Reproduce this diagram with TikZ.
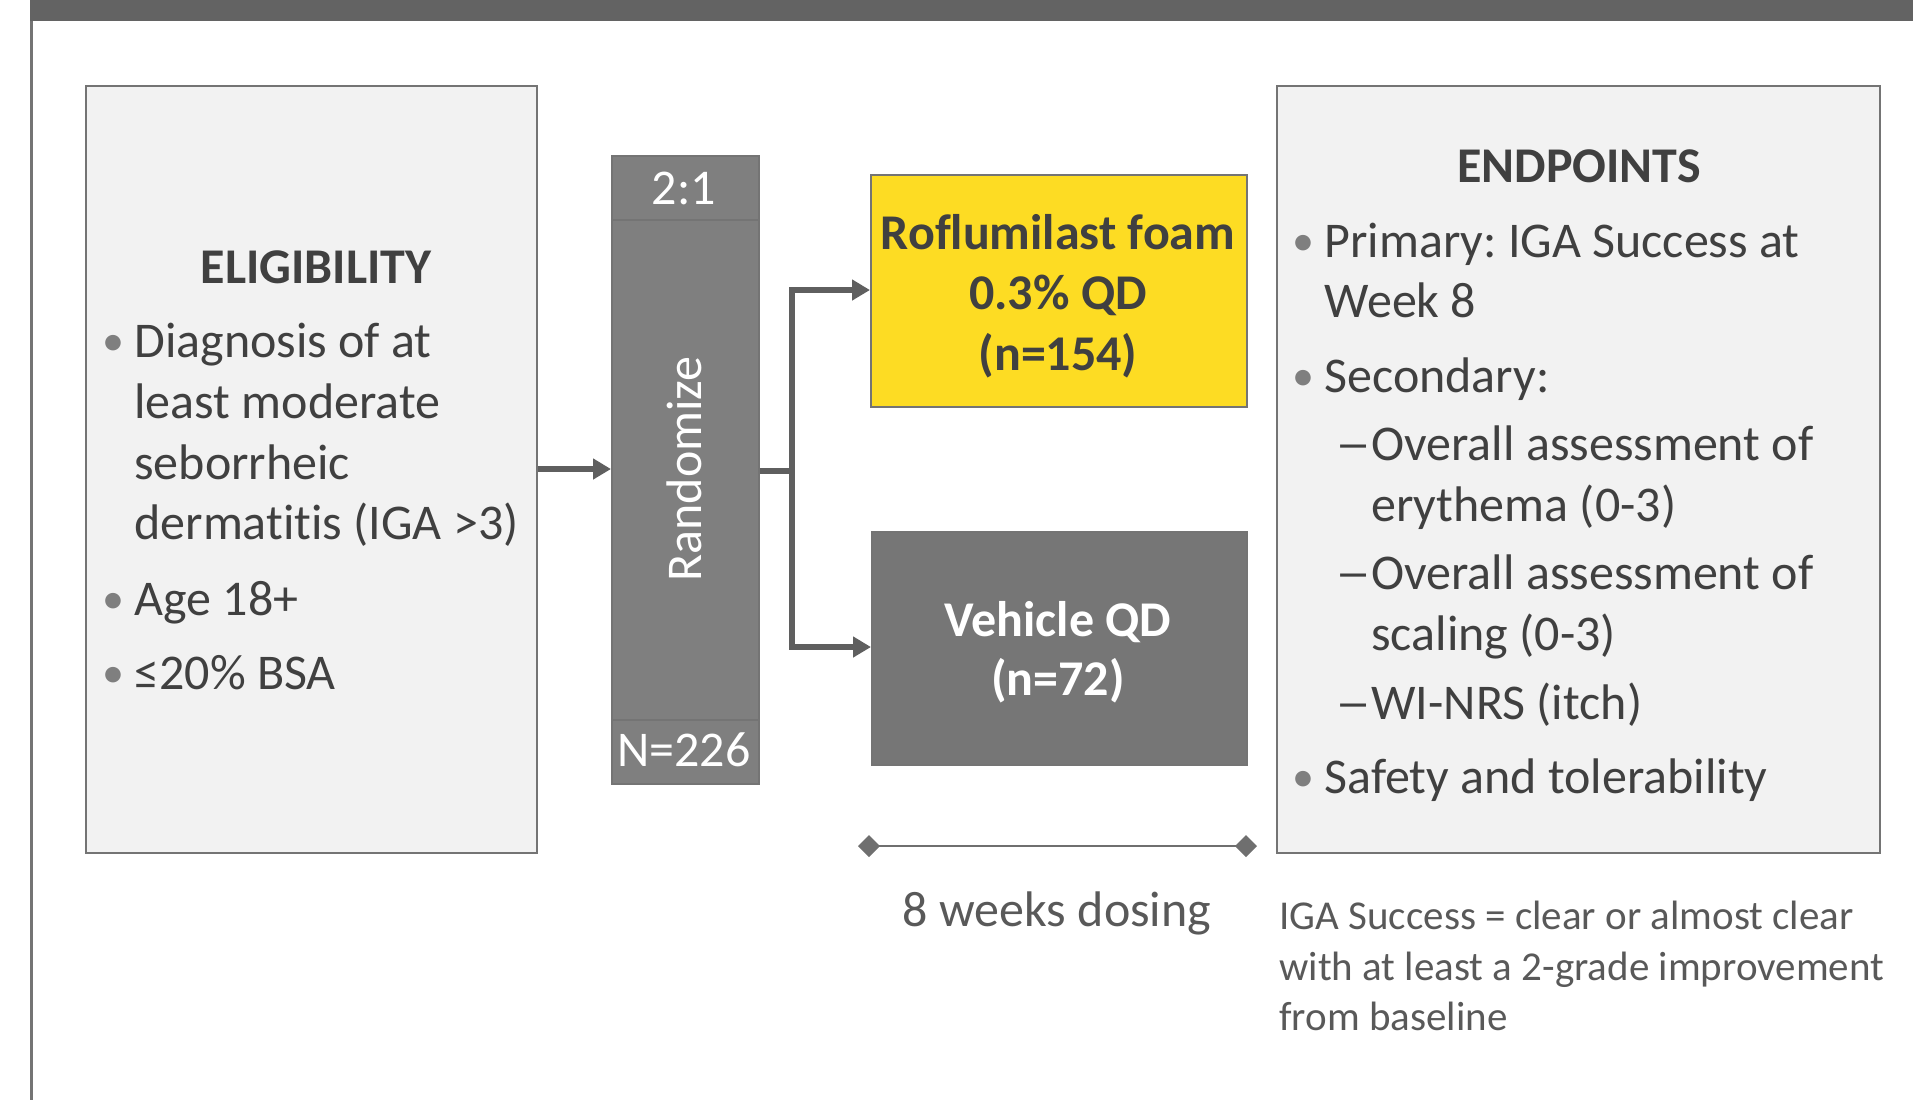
\documentclass[tikz,border=0pt]{standalone}
\usepackage{fontspec}
\setmainfont[Ligatures=NoCommon]{Carlito}
\usetikzlibrary{arrows.meta}
\definecolor{bar}{HTML}{636363}
\definecolor{boxfill}{HTML}{F2F2F2}
\definecolor{boxline}{HTML}{747474}
\definecolor{yel}{HTML}{FDDC23}
\definecolor{veh}{HTML}{767676}
\definecolor{rnd}{HTML}{7F7F7F}
\definecolor{txt}{HTML}{404040}
\definecolor{lighttxt}{HTML}{595959}
\definecolor{conn}{HTML}{5F5F5F}
\tikzset{
  panel/.style={draw=boxline, line width=1pt, fill=boxfill, rectangle, inner sep=0},
  armbox/.style={draw=boxline, line width=0.8pt, rectangle, inner sep=0},
  big/.style={font=\fontsize{25pt}{30.5pt}\selectfont, text=txt, inner sep=0},
  bigb/.style={big, font=\fontsize{25pt}{30.5pt}\selectfont\bfseries},
  small/.style={font=\fontsize{20.5pt}{25pt}\selectfont, text=lighttxt, inner sep=0},
  bul/.style={big, text=rnd, font=\fontsize{22pt}{26pt}\selectfont},
  arr/.style={draw=conn, line width=2.6pt, -{Triangle[length=9pt,width=10pt]}},
  link/.style={draw=conn, line width=2.6pt},
}
\newcommand{\subdash}{\scalebox{1.45}[1]{–}}
\frenchspacing
\begin{document}
\begin{tikzpicture}[x=0.5pt, y=-0.5pt]
\useasboundingbox (0,0) rectangle (1913,1100);
% frame
\fill[bar] (30,0) rectangle (1913,21);
\draw[boxline, line width=1.5pt] (31,21) -- (31,1100);

% eligibility panel
\node[panel, minimum width=225.5pt, minimum height=383.5pt, anchor=north west] (elig) at (85,85) {};
\node[bigb, anchor=base] (eligh) at (316,283) {ELIGIBILITY};
\node[bul, anchor=base] (eb1) at (113,355) {•};
\node[big, anchor=base west] (e1) at (134,357) {Diagnosis of at};
\node[big, anchor=base west] (e2) at (134,418) {least moderate};
\node[big, anchor=base west] (e3) at (134,479) {seborrheic};
\node[big, anchor=base west] (e4) at (134,539) {dermatitis (IGA >3)};
\node[bul, anchor=base] (eb2) at (113,613) {•};
\node[big, anchor=base west] (e5) at (134,615) {Age 18+};
\node[bul, anchor=base] (eb3) at (113,687) {•};
\node[big, anchor=base west] (e6) at (134,689) {≤20\% BSA};

% randomize column
\node[draw=boxline, line width=0.8pt, fill=rnd, rectangle, inner sep=0, minimum width=73.5pt, minimum height=314pt, anchor=north west] (rand) at (611,155) {};
\draw[boxline, line width=0.8pt] (611,220) -- (758,220);
\draw[boxline, line width=0.8pt] (611,720) -- (758,720);
\node[big, text=white, anchor=base] (ratio) at (684,204) {2:1};
\node[big, text=white, anchor=base] (ntot) at (684,766) {N=226};
\node[big, text=white, rotate=90] (randt) at (684,469) {Randomize};

% arms
\node[armbox, fill=yel, minimum width=188pt, minimum height=116pt, anchor=north west] (rof) at (870,174) {};
\node[bigb, anchor=base] (r1) at (1058,249) {Roflumilast foam};
\node[bigb, anchor=base] (r2) at (1058,309) {0.3\% QD};
\node[bigb, anchor=base] (r3) at (1058,370) {(n=154)};
\node[armbox, fill=veh, minimum width=187.5pt, minimum height=116.5pt, anchor=north west] (vehb) at (871,531) {};
\node[bigb, text=white, anchor=base] (v1) at (1058,636) {Vehicle QD};
\node[bigb, text=white, anchor=base] (v2) at (1058,695) {(n=72)};

% connectors
\draw[arr] (elig.east |- 0,469) -- (rand.west |- 0,469);
\coordinate (split) at (792,471);
\draw[link] (rand.east |- split) -- (split);
\draw[arr] (split) |- (rof.west |- 0,290);
\draw[arr] (split) |- (vehb.west |- 0,647);

% dosing
\coordinate (d1) at (858,846);
\coordinate (d2) at (1257,846);
\draw[draw=conn!90, line width=1.4pt, {Diamond[length=11pt,width=11pt]}-{Diamond[length=11pt,width=11pt]}] (d1) -- (d2);
\node[big, text=lighttxt, anchor=base] (dose) at (1057,926) {8 weeks dosing};

% endpoints panel
\node[panel, minimum width=301.5pt, minimum height=383.5pt, anchor=north west] (endp) at (1276,85) {};
\node[bigb, anchor=base] (endh) at (1579,182) {ENDPOINTS};
\node[bul, anchor=base] (pb1) at (1303,255) {•};
\node[big, anchor=base west] (p1) at (1324,257) {Primary: IGA Success at};
\node[big, anchor=base west] (p2) at (1324,317) {Week 8};
\node[bul, anchor=base] (pb2) at (1303,390) {•};
\node[big, anchor=base west] (p3) at (1324,392) {Secondary:};
\node[big, anchor=base west] (s1d) at (1335,460) {\subdash};
\node[big, anchor=base west] (s1) at (1371,460) {Overall assessment of};
\node[big, anchor=base west] (s2) at (1371,521) {erythema (0-3)};
\node[big, anchor=base west] (s3d) at (1335,589) {\subdash};
\node[big, anchor=base west] (s3) at (1371,589) {Overall assessment of};
\node[big, anchor=base west] (s4) at (1371,650) {scaling (0-3)};
\node[big, anchor=base west] (s5d) at (1335,719) {\subdash};
\node[big, anchor=base west] (s5) at (1371,719) {WI-NRS (itch)};
\node[bul, anchor=base] (pb3) at (1303,791) {•};
\node[big, anchor=base west] (p4) at (1324,793) {Safety and tolerability};

% footnote
\node[small, anchor=base west] (f1) at (1279,929) {IGA Success = clear or almost clear};
\node[small, anchor=base west] (f2) at (1279,980) {with at least a 2-grade improvement};
\node[small, anchor=base west] (f3) at (1279,1030) {from baseline};
\end{tikzpicture}
\end{document}
